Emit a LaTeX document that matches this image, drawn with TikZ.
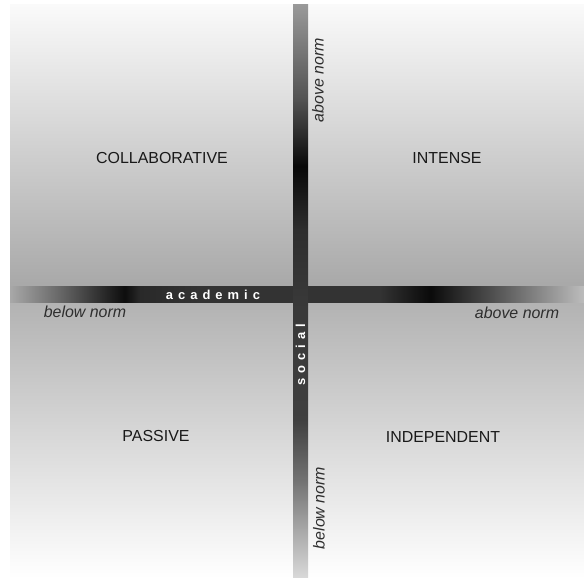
\documentclass[tikz,border=0pt]{standalone}
\usepackage{fontspec}
\setmainfont{Liberation Sans}
\pgfdeclarehorizontalshading{hbarshade}{100bp}{%
  color(0bp)=(black!34); color(25bp)=(black!34);
  color(29.4bp)=(black!60); color(35bp)=(black!95);
  color(36.3bp)=(black!84); color(41.5bp)=(black!80);
  color(57.2bp)=(black!80); color(61.6bp)=(black!96);
  color(66.8bp)=(black!70); color(75bp)=(black!26);
  color(100bp)=(black!26)}
\pgfdeclareverticalshading{vbarshade}{100bp}{%
  color(0bp)=(black!15); color(25bp)=(black!15);
  color(28.3bp)=(black!30); color(33.5bp)=(black!55);
  color(38.8bp)=(black!75); color(49.3bp)=(black!78);
  color(55.4bp)=(black!82); color(60.9bp)=(black!97);
  color(66.7bp)=(black!68); color(75bp)=(black!40);
  color(100bp)=(black!40)}
\begin{document}
\begin{tikzpicture}[x=1bp,y=-1bp,
  quadlab/.style={font=\fontsize{16}{19}\selectfont, text=black!90, inner sep=0pt},
  normlab/.style={font=\fontsize{16}{19}\selectfont\itshape, text=black!82, inner sep=0pt},
  axislab/.style={font=\fontsize{13}{15}\selectfont\bfseries, text=white, inner sep=0pt},
  upperq/.style={top color=black!2, bottom color=black!34},
  lowerq/.style={top color=black!30, bottom color=white}]
\useasboundingbox (0,0) rectangle (584,578);
\fill[white] (0,0) rectangle (584,578);
% quadrants
\shade[upperq] (10,5) rectangle (293,286);
\shade[upperq] (308,5) rectangle (584,286);
\shade[lowerq] (10,302) rectangle (293,578);
\shade[lowerq] (308,302) rectangle (584,578);
% axes
\shade[shading=hbarshade] (10,286) rectangle (584,302);
\shade[shading=vbarshade] (293,5) rectangle (308,578);
% quadrant labels
\node[quadlab] (collab) at (162,158) {COLLABORATIVE};
\node[quadlab] (intense) at (447,158) {INTENSE};
\node[quadlab] (passive) at (156,436) {PASSIVE};
\node[quadlab] (indep) at (443,437) {INDEPENDENT};
% axis labels
\node[axislab] (academic) at (213,295) {a\kern5bp c\kern5bp a\kern5bp d\kern5bp e\kern5bp m\kern5bp i\kern5bp c};
\node[axislab, rotate=90] (social) at (300.5,355) {s\kern5bp o\kern5bp c\kern5bp i\kern5bp a\kern5bp l};
% norm labels
\node[normlab] (hbelow) at (85,312) {below norm};
\node[normlab] (habove) at (517,313) {above norm};
\node[normlab, rotate=90] (vabove) at (318,80) {above norm};
\node[normlab, rotate=90] (vbelow) at (319,508) {below norm};
\end{tikzpicture}
\end{document}
